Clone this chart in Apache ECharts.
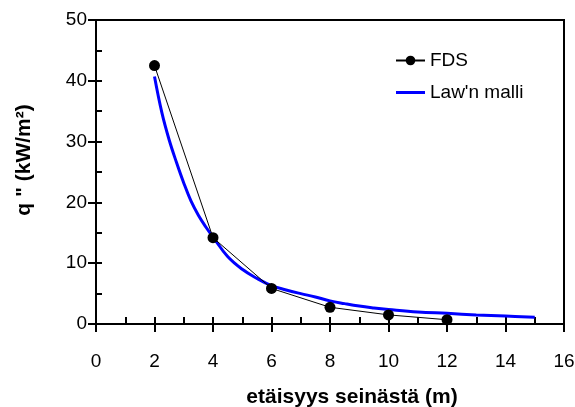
<!DOCTYPE html>
<html>
<head>
<meta charset="utf-8">
<script src="https://cdn.jsdelivr.net/npm/echarts@6/dist/echarts.min.js"></script>
<style>html,body{margin:0;padding:0;background:#fff;}#c{width:575px;height:407px;}</style>
</head>
<body>
<div id="c"></div>
<script>
const fdsX = [2, 4, 6, 8, 10, 12];
const fdsY = [42.5, 14.2, 5.85, 2.75, 1.5, 0.7];
const lawX = [2, 2.25, 2.5, 2.75, 3, 3.25, 3.5, 3.75, 4, 4.5, 5, 5.5, 6, 6.5, 7, 7.5, 8, 8.5, 9, 9.5, 10, 11, 12, 13, 14, 15];
const lawY = [40.7, 34.8, 30.3, 26.6, 23.2, 20.2, 17.9, 16.0, 14.3, 11.1, 9.0, 7.5, 6.3, 5.6, 5.0, 4.45, 3.8, 3.35, 2.95, 2.65, 2.4, 1.98, 1.75, 1.5, 1.3, 1.1];
const xTicks = [0, 2, 4, 6, 8, 10, 12, 14, 16];
const yTicks = [0, 10, 20, 30, 40, 50];
const seriesNames = ['FDS', "Law'n malli"];
const xTitle = 'etäisyys seinästä (m)';
const yTitle = 'q " (kW/m²)';

const font = 'Liberation Sans, Arial, sans-serif';
const chart = echarts.init(document.getElementById('c'));
const zip = (a, b) => a.map((v, i) => [v, b[i]]);
chart.setOption({
  animation: false,
  backgroundColor: '#fff',
  grid: { left: 96, right: 11, top: 20, bottom: 83, show: true, borderColor: '#000', borderWidth: 2, outerBoundsMode: 'none', containLabel: false },
  legend: {
    orient: 'vertical', left: 390, top: 46, itemWidth: 29, itemHeight: 12, itemGap: 13,
    textStyle: { fontFamily: font, fontSize: 19, color: '#000' },
    data: [{ name: seriesNames[0] }, { name: seriesNames[1], icon: 'path://M0,0 H29 V3 H0 Z' }]
  },
  xAxis: [{
    type: 'value', min: xTicks[0], max: xTicks[xTicks.length - 1], interval: 2,
    name: xTitle, nameLocation: 'middle', nameGap: 63,
    nameTextStyle: { fontFamily: font, fontSize: 21, fontWeight: 'bold', color: '#000', padding: [0, 0, 0, 44] },
    axisLine: { lineStyle: { color: '#000', width: 2 } },
    axisTick: { inside: false, length: 8, lineStyle: { color: '#000', width: 2 } },
    axisLabel: { margin: 28, fontFamily: font, fontSize: 19, color: '#000' },
    splitLine: { show: false }
  }, {
    type: 'value', position: 'bottom', offset: 0, min: 0, max: 16, interval: 1,
    axisLine: { show: false },
    axisTick: { inside: true, length: 7, lineStyle: { color: '#000', width: 2 } },
    axisLabel: { show: false }, splitLine: { show: false }
  }],
  yAxis: [{
    type: 'value', min: yTicks[0], max: yTicks[yTicks.length - 1], interval: 10,
    name: yTitle, nameLocation: 'middle', nameGap: 61,
    nameTextStyle: { fontFamily: font, fontSize: 21, fontWeight: 'bold', color: '#000', padding: [0, 0, 0, 24] },
    axisLine: { lineStyle: { color: '#000', width: 2 } },
    axisTick: { inside: false, length: 8, lineStyle: { color: '#000', width: 2 } },
    axisLabel: { margin: 9, fontFamily: font, fontSize: 19, color: '#000' },
    splitLine: { show: false }
  }, {
    type: 'value', position: 'left', offset: 0, min: 0, max: 50, interval: 5,
    axisLine: { show: false },
    axisTick: { inside: true, length: 6, lineStyle: { color: '#000', width: 2 } },
    axisLabel: { show: false }, splitLine: { show: false }
  }],
  series: [{
    name: seriesNames[0], type: 'line', data: zip(fdsX, fdsY),
    symbol: 'circle', symbolSize: 11,
    itemStyle: { color: '#000' }, lineStyle: { color: '#000', width: 1 }, z: 3
  }, {
    name: seriesNames[1], type: 'line', data: zip(lawX, lawY), smooth: 0.4,
    showSymbol: false, symbol: 'none',
    itemStyle: { color: '#0000ff' }, lineStyle: { color: '#0000ff', width: 3 }, z: 2
  }]
});
</script>
</body>
</html>
